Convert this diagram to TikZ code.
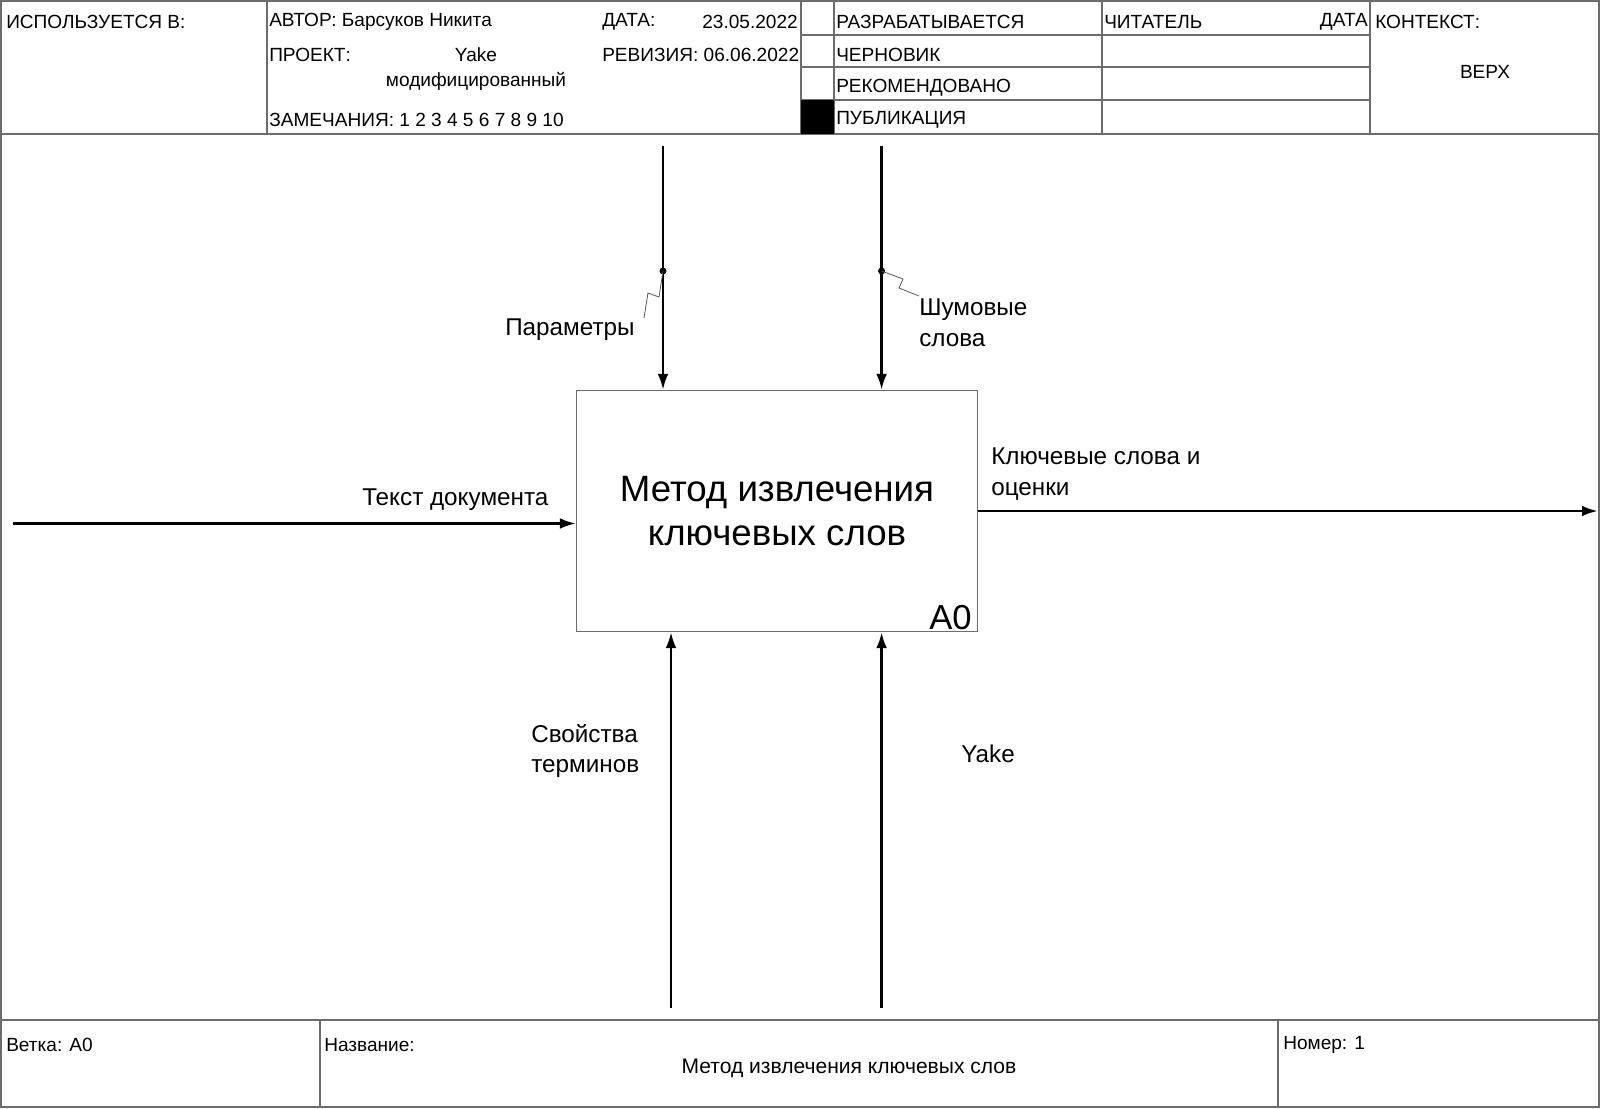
\documentclass[tikz,border=0pt]{standalone}
\usepackage{fontspec}
\setmainfont{Liberation Sans}
\usetikzlibrary{arrows.meta}

\def\px{0.75pt}

\tikzset{
  frame/.style={draw=gray!85!black, line width=0.8pt},
  flow/.style={line width=2pt, -{Latex[length=12pt,width=8pt]}},
  squig/.style={draw=gray!70!black, line width=0.6pt},
  hdr/.style={anchor=west, inner sep=0pt, font=\fontsize{14.3}{16}\selectfont},
  lbl/.style={anchor=west, inner sep=0pt, align=left, font=\fontsize{18.2}{23}\selectfont},
}

\begin{document}
\begin{tikzpicture}[x=\px,y=-\px]
\useasboundingbox (0,0) rectangle (1600,1108);
\fill[white] (0,0) rectangle (1600,1108);

% frame
\draw[frame] (1,1) rectangle (1599,1107);
\draw[frame] (1,134) -- (1599,134);
\draw[frame] (1,1020) -- (1599,1020);

% header
\draw[frame] (267,1) -- (267,134);
\draw[frame] (801,1) -- (801,134);
\draw[frame] (834,1) -- (834,134);
\draw[frame] (1102,1) -- (1102,134);
\draw[frame] (1370,1) -- (1370,134);
\draw[frame] (801,35) -- (1370,35);
\draw[frame] (801,67) -- (1370,67);
\draw[frame] (801,100) -- (1370,100);
\fill[black] (801,100) rectangle (834,134);

\node[hdr] (usedin) at (6,22) {ИСПОЛЬЗУЕТСЯ В:};
\node[hdr] (author) at (269,22) {АВТОР: Барсуков Никита};
\node[hdr] (date) at (602,22) {ДАТА:};
\node[hdr,anchor=east] (dateval) at (798,22) {23.05.2022};
\node[hdr] (project) at (269,55) {ПРОЕКТ:};
\node[hdr,anchor=center] (proj1) at (476,55) {Yake};
\node[hdr,anchor=center] (proj2) at (476,81) {модифицированный};
\node[hdr] (rev) at (602,55) {РЕВИЗИЯ: 06.06.2022};
\node[hdr] (notes) at (269,120) {ЗАМЕЧАНИЯ: 1 2 3 4 5 6 7 8 9 10};
\node[hdr] (st1) at (836,22) {РАЗРАБАТЫВАЕТСЯ};
\node[hdr] (st2) at (836,55) {ЧЕРНОВИК};
\node[hdr] (st3) at (836,88) {РЕКОМЕНДОВАНО};
\node[hdr] (st4) at (836,120) {ПУБЛИКАЦИЯ};
\node[hdr] (reader) at (1104,22) {ЧИТАТЕЛЬ};
\node[hdr,anchor=east] (rdate) at (1368,22) {ДАТА};
\node[hdr] (context) at (1375,22) {КОНТЕКСТ:};
\node[hdr,anchor=center] (top) at (1485,72) {ВЕРХ};

% footer
\draw[frame] (320,1020) -- (320,1107);
\draw[frame] (1278,1020) -- (1278,1107);
\node[hdr] (branch) at (6,1045) {Ветка: A0};
\node[hdr] (title) at (324,1045) {Название:};
\node[hdr,anchor=center,font=\fontsize{15.8}{18}\selectfont] (titleval) at (849,1068) {Метод извлечения ключевых слов};
\node[hdr] (number) at (1283,1045) {Номер: 1};

% activity box
\node[draw=gray!85!black, line width=0.8pt, minimum width=401*\px, minimum height=241*\px,
      align=center, font=\fontsize{27.5}{33}\selectfont] (a0) at (777,511)
  {Метод извлечения\\ключевых слов};
\node[anchor=base east, inner sep=0pt, font=\fontsize{26}{30}\selectfont] (a0num)
  at ([shift={(-6,-3)}]a0.south east) {A0};

% arrow ends
\coordinate (inl) at (13,523.5);
\coordinate (outr) at (1598,511);
\coordinate (c1) at (663,146);
\coordinate (c2) at (881.6,146);
\coordinate (m1) at (671,1008);
\coordinate (m2) at (881.6,1008);
\coordinate (d1) at (663,271);
\coordinate (d2) at (881.6,271);

\draw[flow] (inl) -- (inl -| a0.west);
\draw[flow] (outr -| a0.east) -- (outr);
\draw[flow] (c1) -- (c1 |- a0.north);
\draw[flow] (c2) -- (c2 |- a0.north);
\draw[flow] (m1) -- (m1 |- a0.south);
\draw[flow] (m2) -- (m2 |- a0.south);
\fill (d1) circle (3.5);
\fill (d2) circle (3.5);

% labels
\node[lbl] (params) at (505,330) {Параметры};
\node[lbl] (noise) at (919,323) {Шумовые\\слова};
\node[lbl] (text) at (362,500) {Текст документа};
\node[lbl] (keys) at (991,474) {Ключевые слова и\\оценки};
\node[lbl] (props) at (531,751) {Свойства\\терминов};
\node[lbl] (yake) at (961,754) {Yake};

\draw[squig] (d1) -- (659,297) -- (648,293) -- (644,318);
\draw[squig] (d2) -- (903,279) -- (899,288) -- (919,296);
\end{tikzpicture}
\end{document}
